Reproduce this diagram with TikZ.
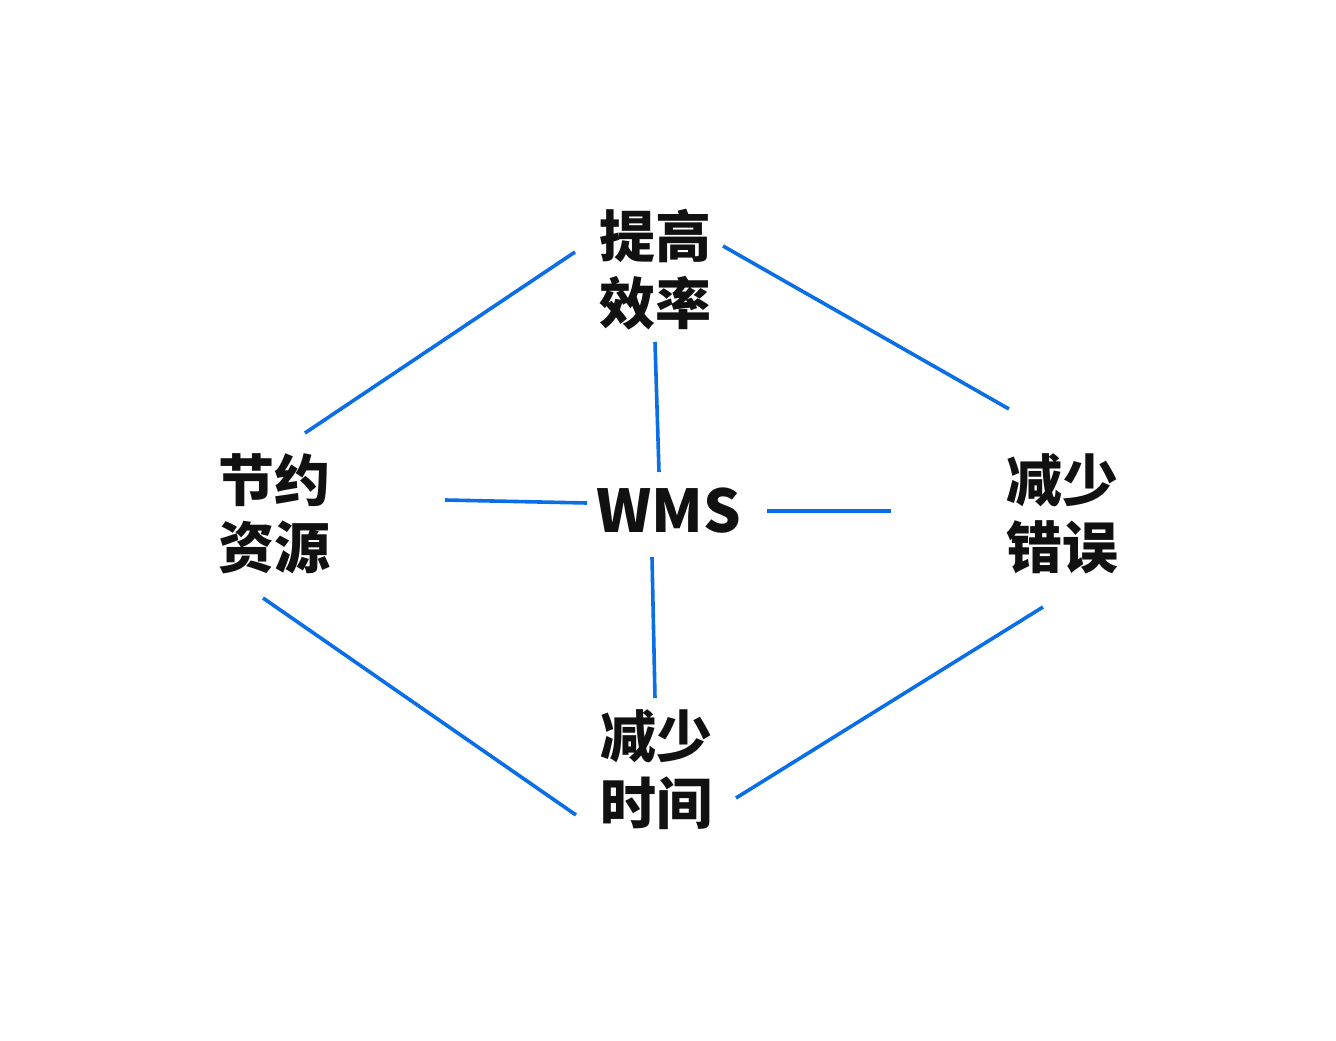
\documentclass[tikz,border=0pt]{standalone}
\usepackage{fontspec}
\newfontfamily\cjk{Noto Sans CJK SC Black}
\definecolor{lineblue}{HTML}{0A6EE6}
\definecolor{ink}{HTML}{111111}
\begin{document}
\begin{tikzpicture}[x=1pt,y=-1pt,
  lbl/.style={font=\cjk\fontsize{56}{67}\selectfont,text=ink,align=center,inner sep=0pt},
  conn/.style={draw=lineblue,line width=3.6pt}]
\useasboundingbox[fill=white] (0,0) rectangle (1336,1041);
\node[lbl] (t) at (655,270) {提高\\效率};
\node[lbl] (j) at (274,514) {节约\\资源};
\node[lbl] (e) at (1062,514) {减少\\错误};
\node[lbl] (s) at (656,770) {减少\\时间};
\node[lbl,font=\cjk\fontsize{59}{59}\selectfont] (w) at (669,511) {WMS};
% connector endpoints
\coordinate (t-l) at (575,252);
\coordinate (t-r) at (723,246);
\coordinate (t-b) at (655,342);
\coordinate (j-t) at (305,433);
\coordinate (j-r) at (445,500);
\coordinate (j-b) at (263,598);
\coordinate (e-t) at (1009,409);
\coordinate (e-l) at (891,511);
\coordinate (e-b) at (1043,607);
\coordinate (s-t) at (655,698);
\coordinate (s-l) at (576,815);
\coordinate (s-r) at (736,798);
\coordinate (w-t) at (659,472);
\coordinate (w-l) at (587,503);
\coordinate (w-r) at (767,511);
\coordinate (w-b) at (652,557);
\draw[conn] (t-l) -- (j-t);
\draw[conn] (t-r) -- (e-t);
\draw[conn] (t-b) -- (w-t);
\draw[conn] (j-r) -- (w-l);
\draw[conn] (w-r) -- (e-l);
\draw[conn] (w-b) -- (s-t);
\draw[conn] (j-b) -- (s-l);
\draw[conn] (e-b) -- (s-r);
\end{tikzpicture}
\end{document}
